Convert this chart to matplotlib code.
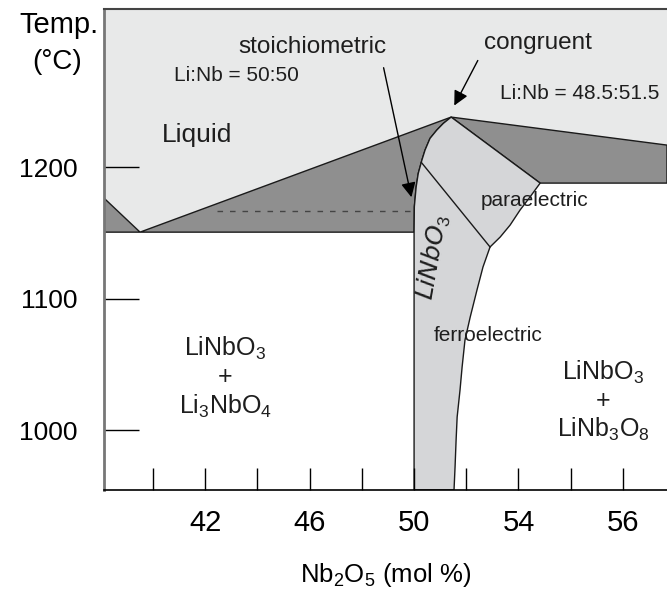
import numpy as np
import matplotlib.pyplot as plt
from matplotlib.patches import Polygon

plt.rcParams['font.family'] = ['Liberation Sans', 'DejaVu Sans']

# ---------------------------------------------
# phase diagram data (Nb2O5 mol %, temperature in C)
# ---------------------------------------------
x_min, x_max = 38.12, 59.69
t_min, t_max = 954.4, 1320.2

eutectic = (39.5, 1150.5)
peak = (51.42, 1238.0)          # congruent melting point
left_top_t = 1176.4             # left liquidus at the axis edge
right_top_t = 1216.7            # right liquidus at the axis edge
right_eutectic = (54.83, 1187.8)

# left solidus of LiNbO3 (from peak down to 50 mol %)
sol_left_x = [51.42, 51.12, 50.87, 50.61, 50.42, 50.30, 50.16, 50.08, 50.01, 50.0]
sol_left_t = [1238.0, 1233.2, 1228.1, 1221.8, 1212.9, 1205.3, 1195.2, 1185.0, 1169.8, 1150.5]

# right solvus of LiNbO3 (from right eutectic down to the bottom)
sol_right_x = [54.83, 54.44, 54.06, 53.68, 53.30, 52.91, 52.64, 52.41, 52.15, 51.95,
               51.84, 51.76, 51.65, 51.61, 51.57, 51.53]
sol_right_t = [1187.8, 1177.2, 1167.3, 1155.9, 1146.8, 1139.2, 1124.0, 1106.5, 1085.9, 1068.4,
               1047.9, 1030.4, 1009.9, 992.4, 971.9, t_min]

# Curie line (paraelectric / ferroelectric)
curie_x = [50.28, 52.91]
curie_t = [1203.5, 1139.2]

stoich_t = 1166.5
stoich_x = [42.45, 50.0]

light = '#e8e9e9'
dark = '#8f8f8f'
mid = '#d5d6d8'
line_c = '#1a1a1a'

fig = plt.figure(figsize=(6.67, 5.92), dpi=100)
ax = fig.add_axes([104/667, 1 - 490/592, 1 - 104/667, (490 - 9)/592])
ax.set_xlim(x_min, x_max)
ax.set_ylim(t_min, t_max)

# liquid
liq = [(x_min, t_max), (x_min, left_top_t), eutectic, peak, (x_max, right_top_t), (x_max, t_max)]
ax.add_patch(Polygon(liq, closed=True, fc=light, ec='none'))

# two phase regions (liquid + solid)
ax.add_patch(Polygon([(x_min, left_top_t), eutectic, (x_min, eutectic[1])], closed=True,
                     fc=dark, ec=line_c, lw=1))
mid_poly = [eutectic, peak] + list(zip(sol_left_x, sol_left_t))
ax.add_patch(Polygon(mid_poly, closed=True, fc=dark, ec=line_c, lw=1))
right_poly = [peak, (x_max, right_top_t), (x_max, right_eutectic[1]), right_eutectic]
ax.add_patch(Polygon(right_poly, closed=True, fc=dark, ec=line_c, lw=1))

# LiNbO3 solid solution
ss = list(zip(sol_left_x, sol_left_t)) + [(50.0, t_min)] + list(zip(sol_right_x[::-1], sol_right_t[::-1])) + [peak]
ax.add_patch(Polygon(ss, closed=True, fc=mid, ec=line_c, lw=1))

ax.plot(curie_x, curie_t, color=line_c, lw=1)
ax.plot(stoich_x, [stoich_t, stoich_t], color='#444444', lw=1, ls=(0, (4, 5)))

# arrows
ax.annotate('', xy=(49.92, 1175.0), xytext=(48.81, 1277.6),
            arrowprops=dict(arrowstyle='-|>', color='k', lw=1, mutation_scale=22))
ax.annotate('', xy=(51.49, 1244.9), xytext=(52.49, 1282.9),
            arrowprops=dict(arrowstyle='-|>', color='k', lw=1, mutation_scale=22))

# labels
tc = '#1e1e1e'
ax.text(46.09, 1291, 'stoichiometric', ha='center', va='center', fontsize=17.5, color=tc)
ax.text(43.18, 1270, 'Li:Nb = 50:50', ha='center', va='center', fontsize=15, color=tc)
ax.text(54.75, 1294.3, 'congruent', ha='center', va='center', fontsize=17.5, color=tc)
ax.text(56.36, 1256.3, 'Li:Nb = 48.5:51.5', ha='center', va='center', fontsize=15, color=tc)
ax.text(41.69, 1224.3, 'Liquid', ha='center', va='center', fontsize=19, color=tc)
ax.text(54.6, 1174.9, 'paraelectric', ha='center', va='center', fontsize=15, color=tc)
ax.text(52.84, 1072.2, 'ferroelectric', ha='center', va='center', fontsize=15, color=tc)
ax.text(50.72, 1131, r'$\mathit{LiNbO}_\mathregular{3}$', ha='center', va='center',
        fontsize=18, rotation=80, color=tc)
ax.text(42.76, 1040, 'LiNbO$_\\mathregular{3}$\n+\nLi$_\\mathregular{3}$NbO$_\\mathregular{4}$',
        ha='center', va='center', fontsize=18, color=tc, linespacing=1.15)
ax.text(57.24, 1022, 'LiNbO$_\\mathregular{3}$\n+\nLiNb$_\\mathregular{3}$O$_\\mathregular{8}$',
        ha='center', va='center', fontsize=18, color=tc, linespacing=1.15)

# axes
ax.spines['right'].set_visible(False)
ax.spines['left'].set_color('#777777')
ax.spines['left'].set_linewidth(2)
ax.spines['top'].set_color('#444444')
ax.spines['top'].set_linewidth(1.5)
ax.spines['bottom'].set_linewidth(1.2)
for s in ax.spines.values():
    s.set_zorder(5)

ax.set_xticks(np.arange(40, 59, 2))
ax.set_xticklabels(['', '42', '', '46', '', '50', '', '54', '', '56'])
ax.set_yticks([1000, 1100, 1200])
ax.tick_params(axis='x', direction='in', length=16, width=1, labelsize=21, pad=14)
ax.tick_params(axis='y', direction='in', length=25, width=1, labelsize=19, pad=19)
ax.set_xlabel('Nb$_\\mathregular{2}$O$_\\mathregular{5}$ (mol %)', fontsize=18.5, labelpad=17)

fig.text(59/667, 1 - 25/592, 'Temp.', ha='center', va='center', fontsize=21)
fig.text(57/667, 1 - 62/592, '(°C)', ha='center', va='center', fontsize=20)

fig.savefig('out.png', dpi=100)
